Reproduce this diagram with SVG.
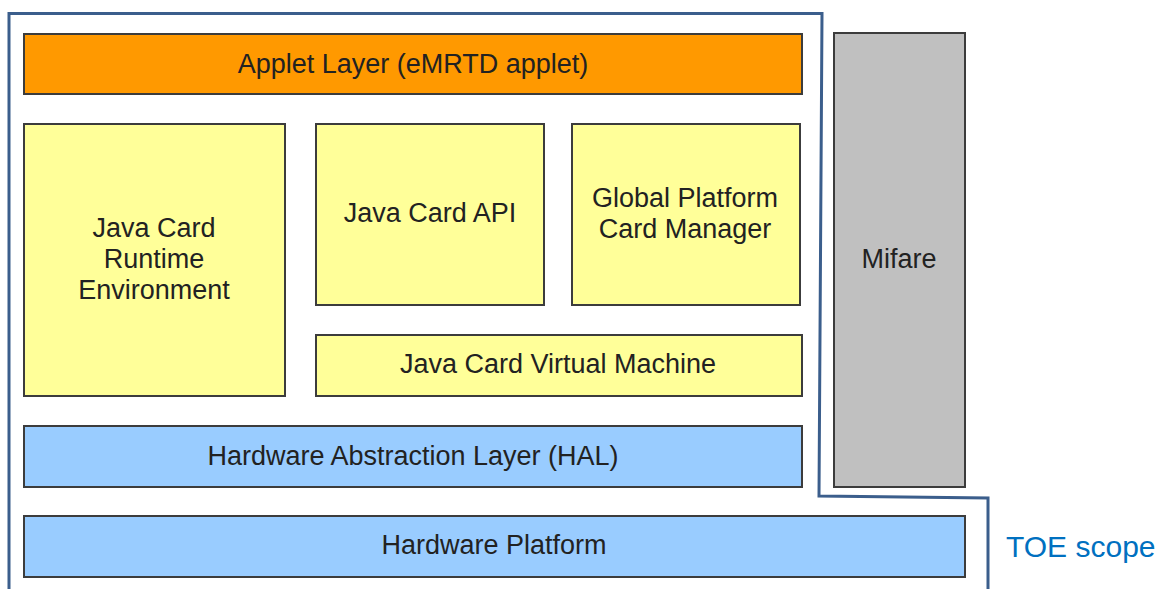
<svg xmlns="http://www.w3.org/2000/svg" width="1162" height="589" viewBox="0 0 1162 589">
<style>
.box{stroke:#3c3c3c;stroke-width:2}
.orange{fill:#FF9900}
.yellow{fill:#FFFF99}
.blue{fill:#99CCFF}
.gray{fill:#C0C0C0}
.lbl{font-family:"Liberation Sans",Arial,sans-serif;font-size:27px;fill:#222;text-anchor:middle}
.scope{fill:none;stroke:#3B5E8C;stroke-width:3}
.toe{font-family:"Liberation Sans",Arial,sans-serif;font-size:30px;fill:#0070C0}
</style>
<rect width="1162" height="589" fill="#ffffff"/>
<g id="connectors">
<path class="scope" d="M9,589 L9,13.5 L822,13.5 L819,496 L988,498 L988,589"/>
</g>
<g id="applet-layer">
<rect class="box orange" x="24" y="34" width="778" height="60"/>
<text class="lbl" x="413" y="73">Applet Layer (eMRTD applet)</text>
</g>
<g id="jcre">
<rect class="box yellow" x="24" y="124" width="261" height="272"/>
<text class="lbl" x="154" y="237">Java Card</text>
<text class="lbl" x="154" y="268">Runtime</text>
<text class="lbl" x="154" y="299">Environment</text>
</g>
<g id="jc-api">
<rect class="box yellow" x="316" y="124" width="228" height="181"/>
<text class="lbl" x="430" y="222">Java Card API</text>
</g>
<g id="gp-card-manager">
<rect class="box yellow" x="572" y="124" width="228" height="181"/>
<text class="lbl" x="685" y="207">Global Platform</text>
<text class="lbl" x="685" y="238">Card Manager</text>
</g>
<g id="jcvm">
<rect class="box yellow" x="316" y="335" width="486" height="61"/>
<text class="lbl" x="558" y="373">Java Card Virtual Machine</text>
</g>
<g id="hal">
<rect class="box blue" x="24" y="426" width="778" height="61"/>
<text class="lbl" x="413" y="465">Hardware Abstraction Layer (HAL)</text>
</g>
<g id="mifare">
<rect class="box gray" x="834" y="33" width="131" height="454"/>
<text class="lbl" x="899" y="268">Mifare</text>
</g>
<g id="hardware-platform">
<rect class="box blue" x="24" y="516" width="941" height="61"/>
<text class="lbl" x="494" y="554">Hardware Platform</text>
</g>
<g id="toe-scope-label">
<text class="toe" x="1006" y="557">TOE scope</text>
</g>
</svg>
